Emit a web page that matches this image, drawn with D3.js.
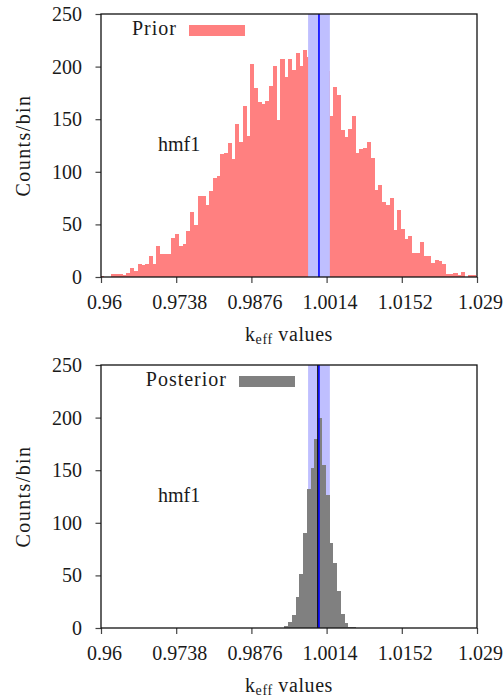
<!DOCTYPE html>
<html>
<head>
<meta charset="utf-8">
<script src="https://cdn.jsdelivr.net/npm/d3@7"></script>
<style>
  body { margin: 0; background: #fff; }
  text { font-family: "Liberation Serif", "DejaVu Serif", serif; fill: #1a1a1a; }
</style>
</head>
<body>
<div id="chart"></div>
<script>
const WIDTH = 503;
const HEIGHT = 697;

// histogram bins (shared by both panels)
const binStart = 0.95982;
const binWidth = 0.00069;

// prior sample counts per bin
const priorCounts = [
  1, 0, 0, 3, 3, 3, 2, 4, 9, 6,
  12, 11, 12, 20, 12, 29, 22, 22, 22, 37,
  41, 29, 31, 44, 62, 49, 77, 77, 68, 82,
  94, 96, 117, 118, 127, 112, 145, 128, 163, 134,
  202, 180, 166, 164, 167, 182, 201, 149, 207, 190,
  207, 197, 213, 201, 216, 209, 220, 212, 226, 208,
  196, 153, 181, 173, 140, 133, 141, 153, 118, 122,
  123, 128, 113, 83, 87, 71, 68, 75, 45, 64,
  46, 36, 39, 23, 23, 33, 20, 20, 13, 16,
  15, 12, 3, 3, 4, 2, 5, 0, 2, 2,
  1
];

// posterior sample counts, starting at bin 49
const posteriorFirstBin = 49;
const posteriorCounts = [2, 6, 12, 29, 51, 90, 132, 152, 180, 200, 155, 126, 81, 62, 35, 13, 5, 1, 1];

// axis ticks
const xTicks = [0.96, 0.9738, 0.9876, 1.0014, 1.0152, 1.029];
const xTickLabels = ["0.96", "0.9738", "0.9876", "1.0014", "1.0152", "1.029"];
const yTicks = [0, 50, 100, 150, 200, 250];

// experimental value +/- 1 sigma, and posterior mean
const expValue = 1.0;
const expSigma = 0.002;
const posteriorMean = 0.9998;

const PLOT_LEFT = 101;
const PLOT_RIGHT = 477;
const PLOT_H = 263;

let svg = d3
  .select("#chart")
  .append("svg")
  .attr("width", WIDTH)
  .attr("height", HEIGHT);

let x = d3.scaleLinear().domain([0.96, 1.029]).range([PLOT_LEFT, PLOT_RIGHT]);

let panels = [
  { id: "prior", label: "Prior", counts: priorCounts, firstBin: 0, color: "#ff8080", top: 14, meanLine: null, keyX: 189 },
  { id: "post", label: "Posterior", counts: posteriorCounts, firstBin: posteriorFirstBin, color: "#808080", top: 365, meanLine: posteriorMean, keyX: 239 },
];

panels.forEach(function (p) {
  let bottom = p.top + PLOT_H;
  let y = d3.scaleLinear().domain([0, 250]).range([bottom, p.top]);

  //clip to plot area
  svg.append("clipPath")
    .attr("id", "clip_" + p.id)
    .append("rect")
    .attr("x", PLOT_LEFT)
    .attr("y", p.top)
    .attr("width", PLOT_RIGHT - PLOT_LEFT)
    .attr("height", PLOT_H);

  let g = svg.append("g").attr("clip-path", "url(#clip_" + p.id + ")");

  let bins = p.counts.map(function (c, i) {
    let x0 = binStart + (p.firstBin + i) * binWidth;
    return { x0: x0, x1: x0 + binWidth, count: c };
  });

  function drawBand() {
    g.append("rect")
      .attr("x", x(expValue - expSigma))
      .attr("y", p.top)
      .attr("width", x(expValue + expSigma) - x(expValue - expSigma))
      .attr("height", PLOT_H)
      .attr("fill", "#bfbfff");
  }

  function drawBars() {
    g.append("g")
      .selectAll("rect")
      .data(bins.filter((d) => d.count > 0))
      .enter()
      .append("rect")
      .attr("x", (d) => x(d.x0))
      .attr("width", (d) => x(d.x1) - x(d.x0) + 0.3)
      .attr("y", (d) => y(d.count))
      .attr("height", (d) => bottom - y(d.count))
      .attr("fill", p.color)
      .attr("shape-rendering", "crispEdges");
  }

  //prior: band over bars, posterior: bars over band
  if (p.meanLine === null) {
    drawBars();
    drawBand();
  } else {
    drawBand();
    drawBars();
    g.append("line")
      .attr("x1", x(p.meanLine)).attr("x2", x(p.meanLine))
      .attr("y1", p.top).attr("y2", bottom)
      .attr("stroke", "#000")
      .attr("stroke-width", 1.4);
  }

  g.append("line")
    .attr("x1", x(expValue)).attr("x2", x(expValue))
    .attr("y1", p.top).attr("y2", bottom)
    .attr("stroke", "#0000ff")
    .attr("stroke-width", 1.6);

  //axes
  let xAxis = d3.axisBottom(x)
    .tickValues(xTicks)
    .tickFormat((d, i) => xTickLabels[i])
    .tickSizeInner(6)
    .tickSizeOuter(0)
    .tickPadding(12);
  let xg = svg.append("g").attr("transform", `translate(0, ${bottom})`).call(xAxis);
  xg.selectAll("text").attr("dx", 3);

  let yAxis = d3.axisLeft(y)
    .tickValues(yTicks)
    .tickSizeInner(5.5)
    .tickSizeOuter(0)
    .tickPadding(13.5);
  let yg = svg.append("g").attr("transform", `translate(${PLOT_LEFT}, 0)`).call(yAxis);

  [xg, yg].forEach(function (ax) {
    ax.select(".domain").remove();
    ax.selectAll("line").attr("stroke", "#444").attr("stroke-width", 1.2);
    ax.selectAll("text")
      .style("font-family", '"Liberation Serif", serif')
      .style("font-size", "20px")
      .attr("fill", "#1a1a1a");
  });

  //frame
  svg.append("rect")
    .attr("x", PLOT_LEFT)
    .attr("y", p.top)
    .attr("width", PLOT_RIGHT - PLOT_LEFT)
    .attr("height", PLOT_H)
    .attr("fill", "none")
    .attr("stroke", "#111")
    .attr("stroke-width", 1.3);

  //key
  svg.append("text")
    .attr("x", p.keyX - 12)
    .attr("y", p.top + 20.5)
    .attr("text-anchor", "end")
    .style("font-size", "20px")
    .style("letter-spacing", "1px")
    .text(p.label);
  svg.append("rect")
    .attr("x", p.keyX)
    .attr("y", p.top + 11)
    .attr("width", 56)
    .attr("height", 11)
    .attr("fill", p.color);

  //case name
  svg.append("text")
    .attr("x", 158)
    .attr("y", p.top + 136.5)
    .style("font-size", "20px")
    .text("hmf1");

  //axis titles
  svg.append("text")
    .attr("transform", `translate(30, ${p.top + PLOT_H / 2}) rotate(-90)`)
    .attr("text-anchor", "middle")
    .style("font-size", "20px")
    .style("letter-spacing", "1.4px")
    .text("Counts/bin");

  let xt = svg.append("text")
    .attr("x", (PLOT_LEFT + PLOT_RIGHT) / 2)
    .attr("y", bottom + 63.5)
    .attr("text-anchor", "middle")
    .style("font-size", "20px")
    .style("letter-spacing", "0.6px");
  xt.append("tspan").text("k");
  xt.append("tspan").attr("dy", 3).style("font-size", "14px").text("eff");
  xt.append("tspan").attr("dy", -3).text(" values");
});
</script>
</body>
</html>
